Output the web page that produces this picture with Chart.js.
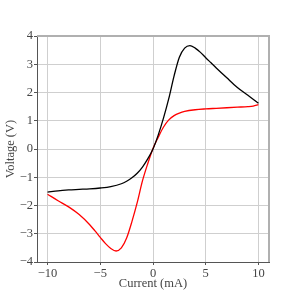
<!DOCTYPE html>
<html lang="en">

<head>
  <meta charset="UTF-8">
  <title>Voltage vs Current</title>
  <script src="https://cdn.jsdelivr.net/npm/chart.js"></script>
  <style>
    body {
      margin: 0;
      background: #ffffff;
    }

    #ivChart {
      display: block;
    }
  </style>
</head>

<body>
  <canvas id="ivChart" width="300" height="300"></canvas>

  <script>
    // Ramo de ida (preto): corrente de -10 a 10 mA
    const forwardCurrent = [-10, -9, -8, -7, -6, -5, -4, -3, -2.5, -2, -1.5, -1, -0.5, 0, 0.5, 1, 1.5, 2, 2.5, 3, 3.5, 4, 4.5, 5, 5.5, 6, 7, 8, 9, 10];
    const forwardVoltage = [-1.53, -1.48, -1.45, -1.43, -1.41, -1.38, -1.33, -1.23, -1.14, -1.02, -0.86, -0.64, -0.35, 0, 0.5, 1.1, 1.79, 2.59, 3.25, 3.57, 3.66, 3.57, 3.42, 3.23, 3.05, 2.87, 2.52, 2.18, 1.9, 1.62];

    // Ramo de volta (vermelho): corrente de 10 a -10 mA
    const backwardCurrent = [10, 9.5, 9, 8, 7, 6, 5, 4, 3, 2.5, 2, 1.5, 1, 0.5, 0, -0.5, -1, -1.5, -2, -2.5, -3, -3.5, -4, -4.5, -5, -5.5, -6, -7, -8, -9, -10];
    const backwardVoltage = [1.57, 1.52, 1.5, 1.48, 1.46, 1.44, 1.42, 1.39, 1.33, 1.27, 1.18, 1.03, 0.78, 0.42, 0.02, -0.52, -1.13, -1.9, -2.57, -3.15, -3.5, -3.61, -3.52, -3.35, -3.13, -2.9, -2.68, -2.32, -2.05, -1.83, -1.6];

    const xTicks = [-10, -5, 0, 5, 10];
    const yTicks = [-4, -3, -2, -1, 0, 1, 2, 3, 4];

    const toPoints = (xs, ys) => xs.map((x, i) => ({ x: x, y: ys[i] }));
    const fmt = v => String(v).replace('-', '\u2212');

    const textColor = '#444444';
    const gridColor = '#cfcfcf';
    const serif = "'Liberation Serif', 'DejaVu Serif', serif";

    // Bordas de cima e da direita em cinza claro
    const frame = {
      id: 'frame',
      afterDraw(chart) {
        const a = chart.chartArea;
        const c = chart.ctx;
        c.save();
        c.strokeStyle = '#b0b0b0';
        c.lineWidth = 2;
        c.beginPath();
        c.moveTo(a.left, a.top);
        c.lineTo(a.right, a.top);
        c.lineTo(a.right, a.bottom);
        c.stroke();
        c.restore();
      }
    };

    const ctx = document.getElementById('ivChart').getContext('2d');
    const ivChart = new Chart(ctx, {
      type: 'scatter',
      data: {
        datasets: [{
          label: 'forward',
          data: toPoints(forwardCurrent, forwardVoltage),
          showLine: true,
          borderColor: '#000000',
          borderWidth: 1.3,
          pointRadius: 0,
          cubicInterpolationMode: 'monotone'
        }, {
          label: 'backward',
          data: toPoints(backwardCurrent, backwardVoltage),
          showLine: true,
          borderColor: '#ff0000',
          borderWidth: 1.3,
          pointRadius: 0,
          cubicInterpolationMode: 'monotone'
        }]
      },
      options: {
        responsive: false,
        animation: false,
        layout: {
          padding: { top: 36, right: 31, left: 0, bottom: 0 }
        },
        plugins: {
          legend: { display: false },
          tooltip: { enabled: false }
        },
        scales: {
          x: {
            type: 'linear',
            min: -11,
            max: 11,
            afterBuildTicks: scale => {
              scale.ticks = xTicks.map(v => ({ value: v }));
            },
            afterFit: scale => {
              scale.height = 38;
            },
            ticks: {
              color: textColor,
              font: { family: serif, size: 12.5 },
              padding: 1,
              maxRotation: 0,
              callback: v => fmt(v)
            },
            grid: {
              color: gridColor,
              lineWidth: 1,
              tickLength: 3,
              tickColor: '#555555'
            },
            border: { color: '#555555', width: 1 },
            title: {
              display: true,
              text: 'Current (mA)',
              color: textColor,
              font: { family: serif, size: 12.5 },
              padding: { top: 0, bottom: 9 }
            }
          },
          y: {
            type: 'linear',
            min: -4,
            max: 4,
            afterBuildTicks: scale => {
              scale.ticks = yTicks.map(v => ({ value: v }));
            },
            afterFit: scale => {
              scale.width = 37;
            },
            ticks: {
              color: textColor,
              font: { family: serif, size: 12.5 },
              padding: 1,
              callback: v => fmt(v)
            },
            grid: {
              color: gridColor,
              lineWidth: 1,
              tickLength: 3,
              tickColor: '#555555'
            },
            border: { color: '#555555', width: 1 },
            title: {
              display: true,
              text: 'Voltage (V)',
              color: textColor,
              font: { family: serif, size: 12.5 },
              padding: { top: 3, bottom: 0 }
            }
          }
        }
      },
      plugins: [frame]
    });
  </script>
</body>

</html>
